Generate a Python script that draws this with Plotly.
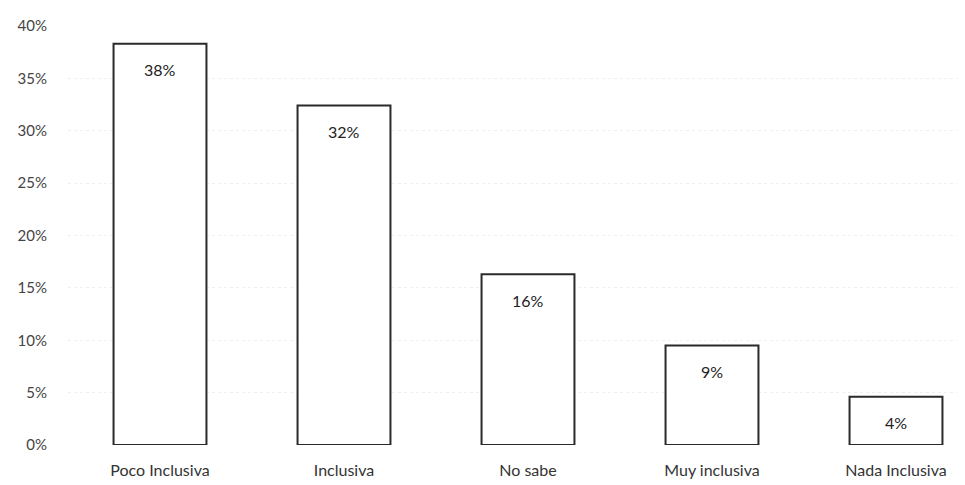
import plotly.graph_objects as go

categories = ["Poco Inclusiva", "Inclusiva", "No sabe", "Muy inclusiva", "Nada Inclusiva"]
values = [38.3, 32.4, 16.3, 9.5, 4.6]
labels = ["38%", "32%", "16%", "9%", "4%"]
y_ticks = [0, 5, 10, 15, 20, 25, 30, 35, 40]
y_tick_labels = ["0%", "5%", "10%", "15%", "20%", "25%", "30%", "35%", "40%"]

FONT = "Lato, 'Open Sans', sans-serif"

fig = go.Figure()
fig.add_trace(go.Bar(
    x=categories, y=values,
    marker=dict(color="white", line=dict(color="#2a2a2a", width=2)),
    width=0.505,
    hoverinfo="skip",
))

for c, v, t in zip(categories, values, labels):
    fig.add_annotation(x=c, y=v, text=t, showarrow=False, yanchor="middle",
                       yshift=-26, font=dict(family=FONT, size=16, color="#222222"))

fig.update_layout(
    width=965, height=485,
    margin=dict(l=60, r=8, t=14, b=48),
    plot_bgcolor="white", paper_bgcolor="white",
    showlegend=False,
    xaxis=dict(range=[-0.5, 4.375], showline=False, showgrid=False, ticks="",
               ticklabelstandoff=14,
               tickfont=dict(family=FONT, size=16, color="#333333")),
    yaxis=dict(range=[0, 40], tickvals=y_ticks, ticktext=y_tick_labels,
               showline=False, zeroline=False, showgrid=True,
               gridcolor="#eeeeee", griddash="dot", gridwidth=1,
               ticklabelstandoff=20,
               tickfont=dict(family=FONT, size=15, color="#444444")),
)

fig.write_html("out.html")
